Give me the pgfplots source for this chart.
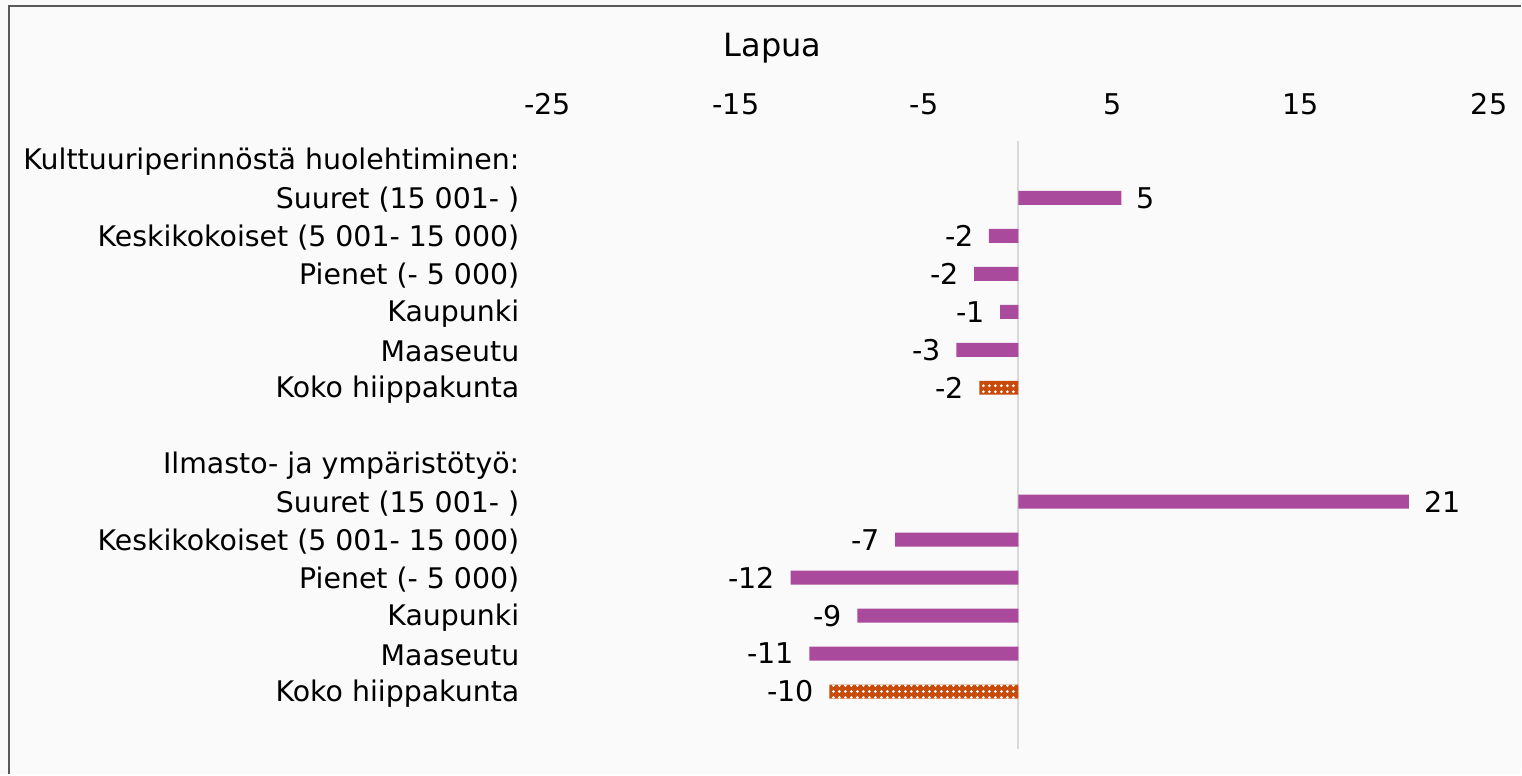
\documentclass[border=0pt]{standalone}
\usepackage{pgfplots}
\pgfplotsset{compat=1.18}
\usepackage{fontspec}
\setmainfont{DejaVu Sans}
\usetikzlibrary{patterns}

\pgfdeclarepatternformonly{bigdots}{\pgfqpoint{-1pt}{-1pt}}{\pgfqpoint{1pt}{1pt}}{\pgfqpoint{3pt}{3pt}}{%
  \pgfpathcircle{\pgfqpoint{0pt}{0pt}}{.75pt}\pgfusepath{fill}}

\definecolor{bgc}{RGB}{250,250,250}
\definecolor{framec}{RGB}{89,89,89}
\definecolor{zeroc}{RGB}{217,217,217}
\definecolor{purplec}{RGB}{170,74,157}
\definecolor{orangec}{RGB}{200,75,10}

\begin{document}
\begin{tikzpicture}
\fill[bgc] (0,0) rectangle (761pt,387.5pt);
\draw[framec, line width=1pt] (4.5pt,0) -- (4.5pt,384.5pt) -- (761pt,384.5pt);
\node[font=\fontsize{16}{19}\selectfont] at (386.5pt,363.5pt) {Lapua};

\begin{axis}[
  at={(274pt,13pt)}, anchor=south west,
  scale only axis, width=471pt, height=304pt,
  xmin=-25, xmax=25,
  ymin=-0.5, ymax=15.5, y dir=reverse,
  axis line style={draw=none},
  major tick length=0pt,
  xtick={-25,-15,-5,5,15,25},
  xticklabel pos=upper,
  xticklabel style={font=\fontsize{14.3}{17}\selectfont, anchor=base, yshift=13pt},
  ytick={0,...,14},
  yticklabels={{Kulttuuriperinnöstä huolehtiminen:},{Suuret (15 001- )},{Keskikokoiset (5 001- 15 000)},{Pienet (- 5 000)},{Kaupunki},{Maaseutu},{Koko hiippakunta},{},
    {Ilmasto- ja ympäristötyö:},{Suuret (15 001- )},{Keskikokoiset (5 001- 15 000)},{Pienet (- 5 000)},{Kaupunki},{Maaseutu},{Koko hiippakunta}},
  yticklabel style={font=\fontsize{14.2}{17}\selectfont, anchor=east, inner sep=0pt, xshift=-14pt, yshift=-1pt},
  extra x ticks={0}, extra x tick labels={},
  extra x tick style={grid=major, major grid style={draw=zeroc, line width=1pt}},
  /pgf/number format/assume math mode=true,
  xbar, bar width=7pt, bar shift=0pt,
  point meta=x,
  nodes near coords={\pgfmathprintnumber[fixed,precision=0]{\pgfplotspointmeta}},
  nodes near coords align={horizontal},
  every node near coord/.append style={font=\fontsize{14.3}{17}\selectfont, text=black, inner xsep=7.5pt, inner ysep=0pt},
]
\addplot[fill=purplec, draw=none] coordinates {
(5.47,1) (-1.56,2) (-2.35,3) (-0.96,4) (-3.29,5)
(20.75,9) (-6.55,10) (-12.1,11) (-8.55,12) (-11.1,13)
};
\addplot[fill=orangec, draw=none, postaction={pattern=bigdots, pattern color=white}] coordinates {
(-2.07,6) (-10.03,14)
};
\end{axis}
\end{tikzpicture}
\end{document}
